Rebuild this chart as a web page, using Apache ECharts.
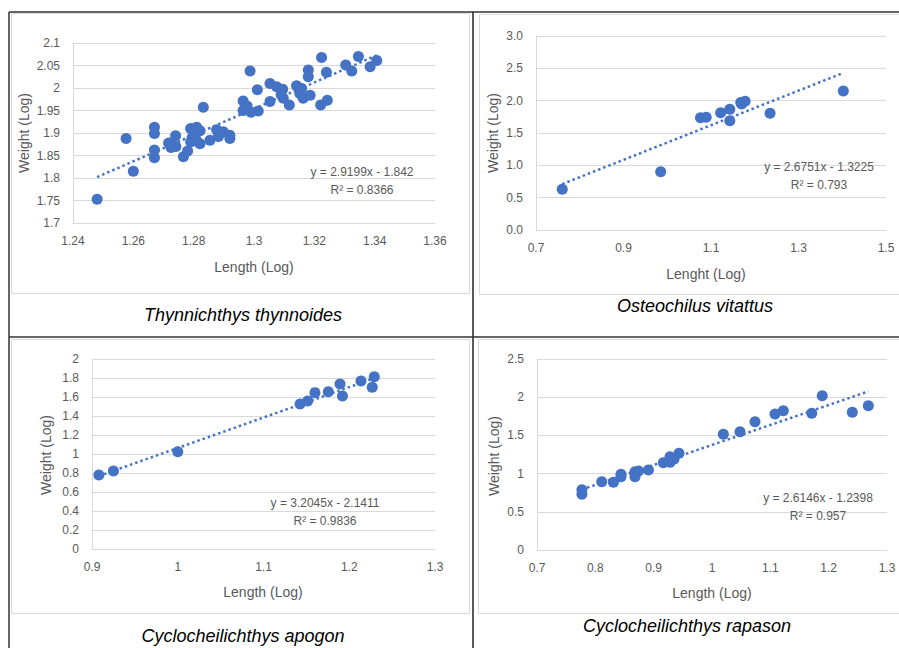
<!DOCTYPE html>
<html>
<head>
<meta charset="utf-8">
<title>Length-weight relationship</title>
<script src="https://cdn.jsdelivr.net/npm/echarts@6/dist/echarts.min.js"></script>
<style>
html, body { margin: 0; padding: 0; background: #fff; }
#main { width: 899px; height: 648px; }
</style>
</head>
<body>
<div id="main"></div>
<script>
// Thynnichthys thynnoides
var lenThyn = [1.248, 1.2576, 1.260, 1.267, 1.267, 1.267, 1.267, 1.2717, 1.2725, 1.273,
	1.274, 1.2741, 1.2766, 1.278, 1.279, 1.2795, 1.279, 1.281, 1.281, 1.2805,
	1.2821, 1.2821, 1.2832, 1.2854, 1.2876, 1.2882, 1.2898, 1.292, 1.292, 1.2964,
	1.2977, 1.2964, 1.2987, 1.299, 1.3011, 1.3014, 1.3053, 1.3053, 1.3075, 1.3095,
	1.3097, 1.309, 1.3117, 1.3141, 1.3152, 1.3158, 1.3163, 1.3186, 1.318, 1.318,
	1.3224, 1.3221, 1.324, 1.3243, 1.3304, 1.3324, 1.3346, 1.3385, 1.3407];
var wtThyn = [1.753, 1.888, 1.815, 1.913, 1.899, 1.862, 1.845, 1.878, 1.868, 1.872,
	1.894, 1.870, 1.847, 1.860, 1.910, 1.890, 1.880, 1.913, 1.882, 1.895,
	1.905, 1.876, 1.957, 1.884, 1.907, 1.892, 1.903, 1.888, 1.895, 1.971,
	1.960, 1.950, 2.038, 1.946, 1.996, 1.949, 2.010, 1.970, 2.003, 1.997,
	1.977, 1.985, 1.962, 2.005, 1.988, 1.999, 1.977, 1.984, 2.040, 2.025,
	2.068, 1.962, 2.035, 1.973, 2.051, 2.038, 2.070, 2.047, 2.061];

// Osteochilus vitattus
var lenOste = [0.760, 0.985, 1.076, 1.089, 1.122, 1.143, 1.143, 1.168, 1.178, 1.170, 1.235, 1.4025];
var wtOste = [0.63, 0.90, 1.737, 1.742, 1.814, 1.866, 1.69, 1.97, 1.99, 1.95, 1.804, 2.149];

// Cyclocheilichthys apogon
var lenApog = [0.908, 0.925, 1.000, 1.1426, 1.1515, 1.160, 1.1756, 1.1892, 1.1921, 1.2137, 1.2268, 1.2292];
var wtApog = [0.779, 0.821, 1.024, 1.526, 1.558, 1.646, 1.656, 1.737, 1.610, 1.768, 1.702, 1.814];

// Cyclocheilichthys rapason
var lenRapa = [0.777, 0.777, 0.811, 0.831, 0.844, 0.844, 0.868, 0.868, 0.874, 0.891,
	0.9166, 0.928, 0.928, 0.935, 0.9434, 1.0194, 1.048, 1.0737, 1.108, 1.1223,
	1.171, 1.189, 1.2405, 1.268];
var wtRapa = [0.79, 0.73, 0.894, 0.886, 0.99, 0.96, 1.025, 0.96, 1.034, 1.047,
	1.143, 1.22, 1.148, 1.19, 1.266, 1.514, 1.549, 1.68, 1.78, 1.824,
	1.789, 2.02, 1.802, 1.889];

// trendline equations shown in the picture
var trendSlope = [2.9199, 2.6751, 3.2045, 2.6146];
var trendIntercept = [-1.842, -1.3225, -2.1411, -1.2398];
var trendR2 = [0.8366, 0.793, 0.9836, 0.957];

var speciesNames = ['Thynnichthys thynnoides', 'Osteochilus vitattus', 'Cyclocheilichthys apogon', 'Cyclocheilichthys rapason'];
var xNames = ['Length (Log)', 'Lenght (Log)', 'Length (Log)', 'Length (Log)'];
var yName = 'Weight (Log)';

// axis ranges: [min, max, interval]
var xRanges = [[1.24, 1.36, 0.02], [0.7, 1.5, 0.1], [0.9, 1.3, 0.1], [0.7, 1.3, 0.1]];
var yRanges = [[1.7, 2.1, 0.05], [0, 3, 0.5], [0, 2, 0.2], [0, 2.5, 0.5]];

var blue = '#4472C4';
var gridColor = '#d9d9d9';
var textColor = '#595959';
var fontName = '"Liberation Sans", Arial, sans-serif';

var lens = [lenThyn, lenOste, lenApog, lenRapa];
var wts = [wtThyn, wtOste, wtApog, wtRapa];

function toPoints(xs, ys) {
	var pts = [];
	for (var i = 0; i < xs.length; i++) {
		pts.push([xs[i], ys[i]]);
	}
	return pts;
}

function trendPoints(xs, a, b) {
	var lo = Math.min.apply(null, xs);
	var hi = Math.max.apply(null, xs);
	return [[lo, a * lo + b], [hi, a * hi + b]];
}

function valueAxis(idx, range, isX, fmt) {
	return {
		type: 'value',
		gridIndex: idx,
		min: range[0],
		max: range[1],
		interval: range[2],
		axisLine: { show: true, onZero: false, lineStyle: { color: gridColor, width: 1 } },
		axisTick: { show: false },
		splitLine: { show: !isX, lineStyle: { color: gridColor, width: 1 } },
		axisLabel: {
			color: textColor,
			fontSize: 12,
			fontFamily: fontName,
			margin: isX ? 12 : 13,
			formatter: fmt
		}
	};
}

// only every second tenth is labelled on the Osteochilus length axis
function oddTenths(v) {
	return Math.round(v * 10) % 2 === 1 ? String(+v.toFixed(1)) : '';
}
function oneDecimal(v) {
	return v.toFixed(1);
}

var grids = [
	{ left: 73, top: 43, width: 362, height: 180 },
	{ left: 536, top: 36, width: 350, height: 194 },
	{ left: 92, top: 359, width: 343, height: 190 },
	{ left: 537, top: 359, width: 350, height: 191 }
];
var xFormat = [undefined, oddTenths, undefined, undefined];
var yFormat = [undefined, oneDecimal, undefined, undefined];

// label positions (centres) per panel
var xNamePos = [[254, 267], [706, 274], [263, 592], [712, 593]];
var yNamePos = [[24, 133], [493, 133], [46, 455], [494, 456]];
var eqPos = [[362, 172], [819, 167], [325, 503], [818, 498]];
var captionPos = [[243, 315], [695, 306], [243, 636], [687, 626]];

var xAxes = [], yAxes = [], series = [], graphics = [];

function addText(txt, x, y, size, opts) {
	opts = opts || {};
	graphics.push({
		type: 'text',
		x: x,
		y: y,
		rotation: opts.rotation || 0,
		z: 10,
		style: {
			text: txt,
			fill: opts.color || textColor,
			font: (opts.italic ? 'italic ' : '') + size + 'px ' + fontName,
			textAlign: 'center',
			align: 'center',
			textVerticalAlign: 'middle',
			verticalAlign: 'middle'
		}
	});
}

function addLine(x1, y1, x2, y2, color, w) {
	graphics.push({
		type: 'line',
		z: 1,
		shape: { x1: x1, y1: y1, x2: x2, y2: y2 },
		style: { stroke: color, lineWidth: w }
	});
}

function addBox(x, y, w, h) {
	graphics.push({
		type: 'rect',
		z: 0,
		shape: { x: x, y: y, width: w, height: h },
		style: { fill: null, stroke: gridColor, lineWidth: 1 }
	});
}

// light chart frames
addBox(11.5, 13.5, 458, 280);
addBox(479.5, 14.5, 430, 280);
addBox(11.5, 339.5, 458, 274);
addBox(478.5, 339.5, 430, 274);

// table borders
addLine(9, 12, 899, 12, '#333', 1.5);
addLine(9, 12, 9, 648, '#333', 1.5);
addLine(473, 12, 473, 648, '#222', 1.5);
addLine(9, 337, 899, 337, '#333', 1.5);

for (var i = 0; i < 4; i++) {
	xAxes.push(valueAxis(i, xRanges[i], true, xFormat[i]));
	yAxes.push(valueAxis(i, yRanges[i], false, yFormat[i]));

	series.push({
		type: 'line',
		xAxisIndex: i,
		yAxisIndex: i,
		data: trendPoints(lens[i], trendSlope[i], trendIntercept[i]),
		symbol: 'none',
		silent: true,
		lineStyle: { color: blue, width: 2.5, type: [2.5, 3] },
		z: 2
	});
	series.push({
		type: 'scatter',
		xAxisIndex: i,
		yAxisIndex: i,
		data: toPoints(lens[i], wts[i]),
		symbol: 'circle',
		symbolSize: 11,
		itemStyle: { color: blue, opacity: 1 },
		z: 3
	});

	addText(xNames[i], xNamePos[i][0], xNamePos[i][1], 14);
	addText(yName, yNamePos[i][0], yNamePos[i][1], 14, { rotation: Math.PI / 2 });
	var eq = 'y = ' + trendSlope[i] + 'x - ' + Math.abs(trendIntercept[i]);
	addText(eq, eqPos[i][0], eqPos[i][1], 12);
	addText('R\u00B2 = ' + trendR2[i], eqPos[i][0], eqPos[i][1] + 18, 12);
	addText(speciesNames[i], captionPos[i][0], captionPos[i][1], 18, { italic: true, color: '#000' });
}

var myChart = echarts.init(document.getElementById('main'), null, { renderer: 'svg' });
var option = {
	animation: false,
	backgroundColor: '#fff',
	grid: grids,
	xAxis: xAxes,
	yAxis: yAxes,
	series: series,
	graphic: { elements: graphics }
};
myChart.setOption(option);

window.addEventListener('resize', function() {
	myChart.resize();
});
</script>
</body>
</html>
